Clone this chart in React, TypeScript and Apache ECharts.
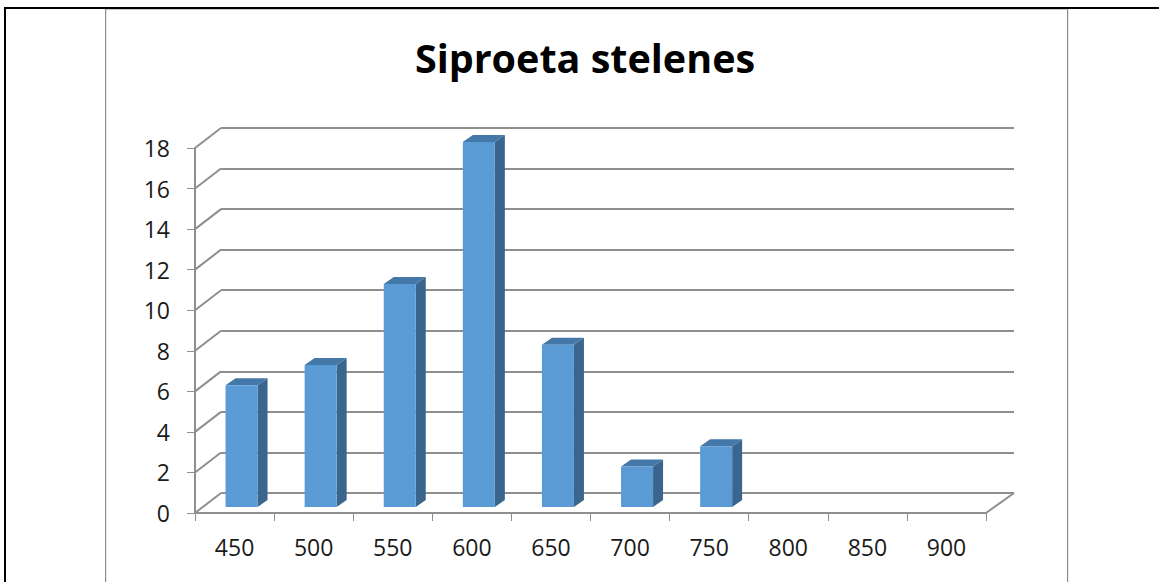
import React, { useEffect, useRef } from "react";
import * as echarts from "echarts";

const categories = ["450", "500", "550", "600", "650", "700", "750", "800", "850", "900"];
const values = [6, 7, 11, 18, 8, 2, 3, 0, 0, 0];
const yTicks = [0, 2, 4, 6, 8, 10, 12, 14, 16, 18];
const titleText = "Siproeta stelenes";

const FONT = "'Open Sans', 'Noto Sans', sans-serif";
const GRID_COLOR = "#8f8f8f";
const DEPTH_X = 26;
const DEPTH_Y = 20;
const BACK_RIGHT = 1014;

export default function App() {
  const ref = useRef<HTMLDivElement>(null);
  useEffect(() => {
    const chart = echarts.init(ref.current!, undefined, { renderer: "svg" });
    const W = 1159;
    const H = 582;
    chart.setOption({
      animation: false,
      backgroundColor: "#ffffff",
      title: {
        text: titleText,
        left: 580,
        top: 33,
        textAlign: "center",
        textStyle: { fontFamily: FONT, fontSize: 39.5, fontWeight: "bold", color: "#000000" },
      },
      grid: [
        { left: 195, right: W - 986, top: 148, bottom: H - 513 },
        { left: 195 + DEPTH_X, right: W - BACK_RIGHT, top: 148 - DEPTH_Y, bottom: H - 513 + DEPTH_Y },
      ],
      xAxis: [
        {
          type: "category",
          gridIndex: 0,
          data: categories,
          axisLine: { lineStyle: { color: GRID_COLOR, width: 2 } },
          axisTick: { show: true, alignWithLabel: false, length: 8, lineStyle: { color: GRID_COLOR, width: 1 } },
          axisLabel: { margin: 22, fontFamily: FONT, fontSize: 23, color: "#1a1a1a" },
        },
        { type: "category", gridIndex: 1, data: categories, show: false },
      ],
      yAxis: [
        {
          type: "value",
          gridIndex: 0,
          min: 0,
          max: 18,
          interval: 2,
          axisLine: { show: true, lineStyle: { color: GRID_COLOR, width: 2 } },
          axisTick: { show: true, length: 8, lineStyle: { color: GRID_COLOR, width: 1 } },
          axisLabel: { margin: 25, fontFamily: FONT, fontSize: 23, color: "#1a1a1a" },
          splitLine: { show: false },
        },
        {
          type: "value",
          gridIndex: 1,
          min: 0,
          max: 18,
          interval: 2,
          axisLine: { show: false },
          axisTick: { show: false },
          axisLabel: { show: false },
          splitLine: { show: true, lineStyle: { color: GRID_COLOR, width: 2 } },
        },
      ],
      series: [
        {
          type: "custom",
          xAxisIndex: 0,
          yAxisIndex: 0,
          silent: true,
          z: 2,
          data: yTicks.map((t) => [0, t]),
          renderItem: (_: any, api: any) => {
            const p = api.coord([categories[0], api.value(1)]);
            const size = api.size([1, 0]);
            const x0 = p[0] - size[0] / 2;
            const children: any[] = [
              {
                type: "line",
                shape: { x1: x0, y1: p[1], x2: x0 + DEPTH_X, y2: p[1] - DEPTH_Y },
                style: { stroke: GRID_COLOR, lineWidth: 2 },
              },
            ];
            if (api.value(1) === 0) {
              const x1 = x0 + size[0] * categories.length;
              children.push({
                type: "line",
                shape: { x1, y1: p[1], x2: BACK_RIGHT, y2: p[1] - DEPTH_Y },
                style: { stroke: GRID_COLOR, lineWidth: 2 },
              });
            }
            return { type: "group", children };
          },
        },
        {
          type: "custom",
          xAxisIndex: 0,
          yAxisIndex: 0,
          silent: true,
          z: 5,
          data: categories.map((c, i) => [c, values[i]]),
          renderItem: (_: any, api: any) => {
            const v = api.value(1);
            if (!v) return { type: "group", children: [] };
            const base = api.coord([api.value(0), 0]);
            const top = api.coord([api.value(0), v]);
            const w = 32;
            const x = base[0] + 7 - w / 2;
            const yb = base[1] - 6;
            const yt = top[1] - 6;
            const dx = 10;
            const dy = 7;
            return {
              type: "group",
              children: [
                {
                  type: "polygon",
                  shape: { points: [[x + w, yt], [x + w + dx, yt - dy], [x + w + dx, yb - dy], [x + w, yb]] },
                  style: { fill: "#3a658c" },
                },
                {
                  type: "polygon",
                  shape: { points: [[x, yt], [x + dx, yt - dy], [x + w + dx, yt - dy], [x + w, yt]] },
                  style: { fill: "#4378a8" },
                },
                {
                  type: "rect",
                  shape: { x, y: yt, width: w, height: yb - yt },
                  style: { fill: "#5b9bd5" },
                },
              ],
            };
          },
        },
      ],
      graphic: [
        { type: "rect", shape: { x: 4, y: 7, width: 2, height: H }, style: { fill: "#000000" } },
        { type: "rect", shape: { x: 4, y: 7, width: W, height: 2 }, style: { fill: "#000000" } },
        { type: "rect", shape: { x: 105, y: 9, width: 963, height: 1 }, style: { fill: "#c8c8c8" } },
        { type: "rect", shape: { x: 105, y: 9, width: 1.2, height: H }, style: { fill: "#8c8c8c" } },
        { type: "rect", shape: { x: 1067, y: 9, width: 1.2, height: H }, style: { fill: "#8c8c8c" } },
      ],
    });
    return () => chart.dispose();
  }, []);
  return <div ref={ref} style={{ position: "fixed", left: 0, top: 0, width: 1159, height: 582 }} />;
}
